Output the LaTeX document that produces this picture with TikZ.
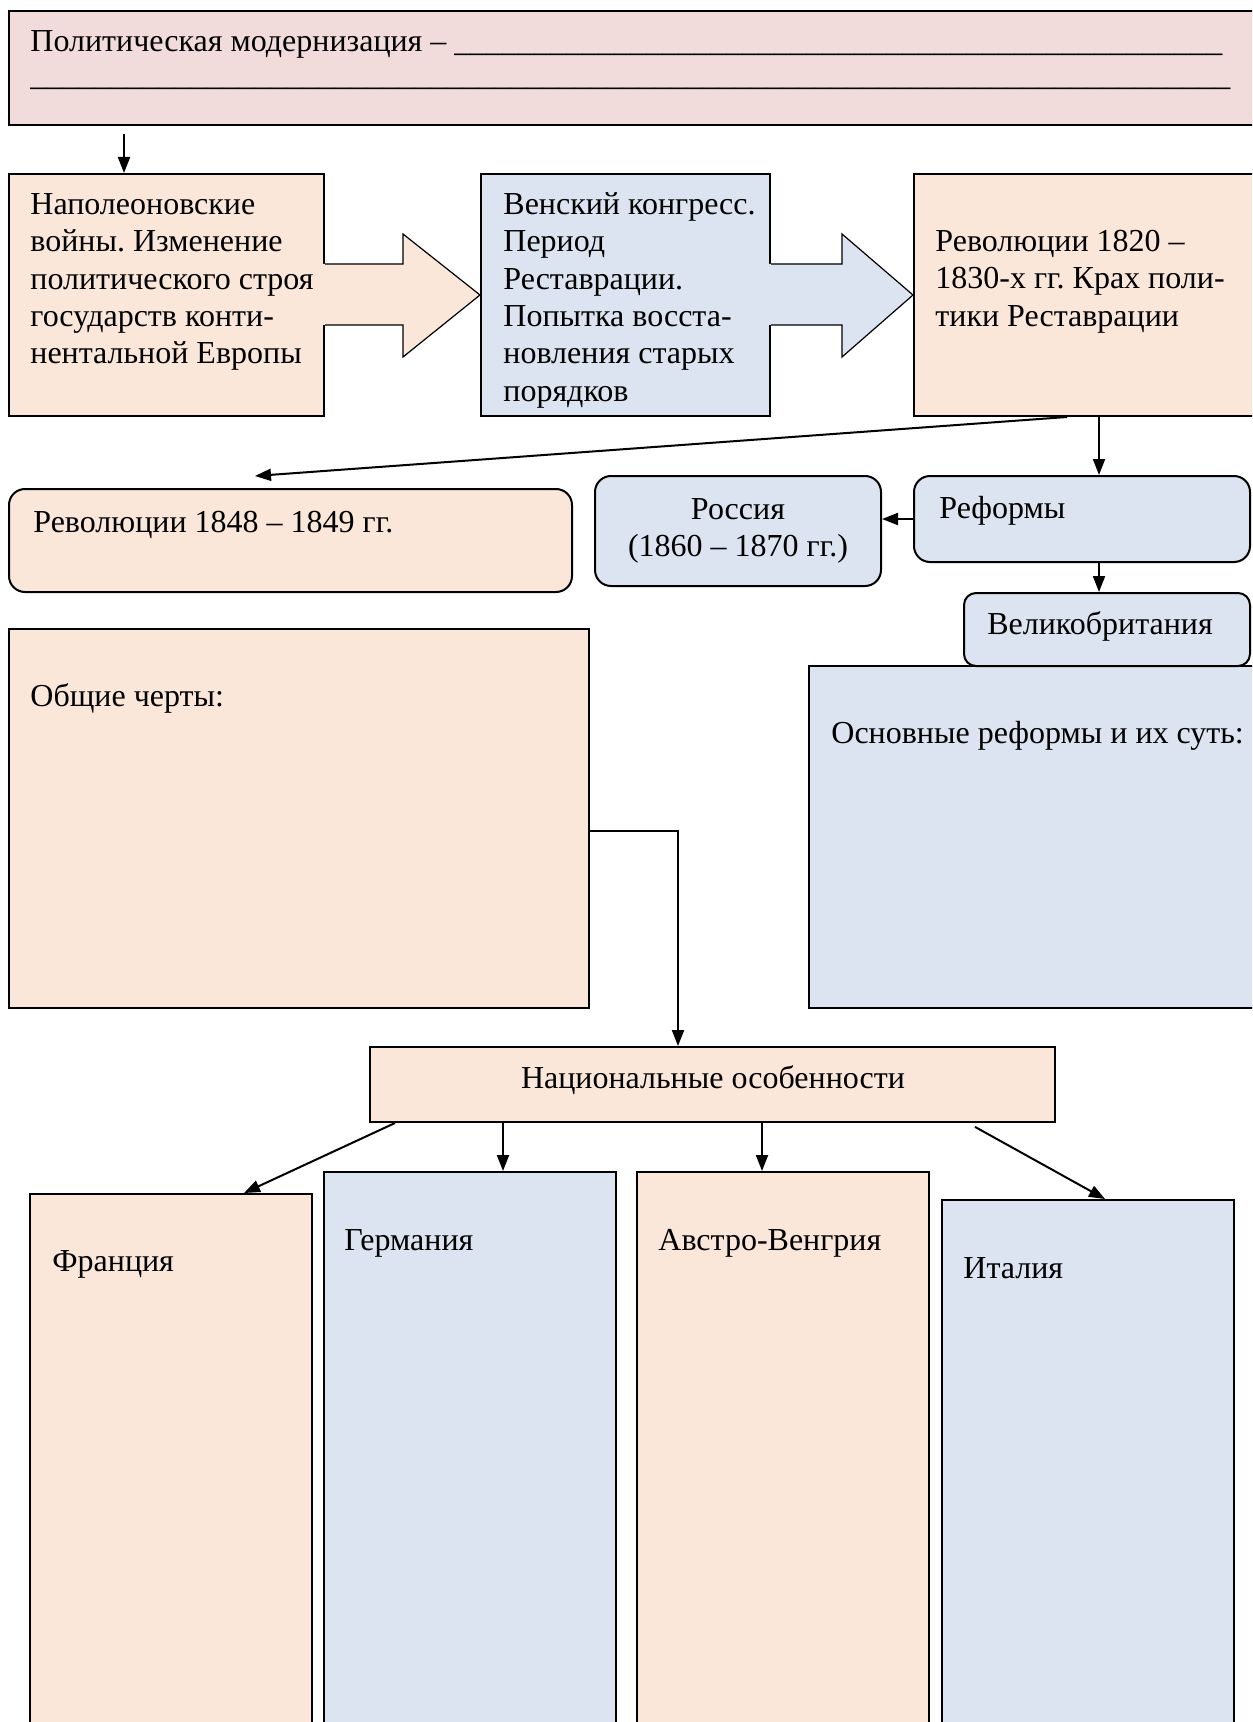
\documentclass[tikz,border=0pt]{standalone}
\usepackage{fontspec}
\setmainfont{Liberation Serif}
\usetikzlibrary{arrows.meta,calc,fit}
\definecolor{pinkf}{HTML}{F2DCDB}
\definecolor{peachf}{HTML}{FBE7D9}
\definecolor{bluef}{HTML}{DBE4F0}
\frenchspacing
\begin{document}
\begin{tikzpicture}[x=0.5pt,y=-0.5pt,
  every node/.style={font=\fontsize{16}{18.65}\selectfont},
  boxbase/.style={draw=black, line width=1pt, inner sep=0pt},
  peachbox/.style={boxbase, fill=peachf},
  bluebox/.style={boxbase, fill=bluef},
  pinkbox/.style={boxbase, fill=pinkf},
  roundbox/.style={rounded corners=8pt},
  txt/.style={inner sep=0pt, anchor=north west, align=left},
  txtc/.style={inner sep=0pt, anchor=north, align=center},
  txtb/.style={inner sep=0pt, anchor=base west},
  txtbc/.style={inner sep=0pt, anchor=base},
  conn/.style={line width=1pt, -{Triangle[length=8pt,width=6pt]}},
  blockarrow/.style={draw=black, line width=0.6pt},
]
\fill[white] (0,0) rectangle (1252,1722);
\clip (0,0) rectangle (1252,1722);

% boxes
\node[pinkbox, fit={(9,11)(1262,125)}] (top) {};
\node[peachbox, fit={(9,174)(324,416)}] (b1) {};
\node[bluebox, fit={(481,174)(770,416)}] (b2) {};
\node[peachbox, fit={(914,174)(1262,416)}] (b3) {};
\node[peachbox, roundbox, fit={(9,489)(572,592)}] (r48) {};
\node[bluebox, roundbox, fit={(595,476)(881,586)}] (rus) {};
\node[bluebox, roundbox, fit={(914,476)(1250,562)}] (ref) {};
\node[bluebox, fit={(809,666)(1262,1008)}] (osn) {};
\node[bluebox, rounded corners=6pt, fit={(964,593)(1250,666)}] (gb) {};
\node[peachbox, fit={(9,629)(589,1008)}] (obs) {};
\node[peachbox, fit={(370,1047)(1055,1122)}] (nat) {};
\node[peachbox, fit={(30,1194)(312,1740)}] (fr) {};
\node[bluebox, fit={(324,1172)(616,1740)}] (ger) {};
\node[peachbox, fit={(637,1172)(929,1740)}] (aus) {};
\node[bluebox, fit={(942,1200)(1234,1740)}] (ita) {};

% block arrows
\fill[peachf] ($(b1.east)+(-3,-31)$) -- ($(b1.east)+(78,-31)$) -- ($(b1.east)+(78,-61)$) -- (b2.west)
  -- ($(b1.east)+(78,62)$) -- ($(b1.east)+(78,30)$) -- ($(b1.east)+(-3,30)$) -- cycle;
\draw[blockarrow] ($(b1.east)+(0,-31)$) -- ($(b1.east)+(78,-31)$) -- ($(b1.east)+(78,-61)$) -- (b2.west)
  -- ($(b1.east)+(78,62)$) -- ($(b1.east)+(78,30)$) -- ($(b1.east)+(0,30)$);
\fill[bluef] ($(b2.east)+(-3,-31)$) -- ($(b2.east)+(71,-31)$) -- ($(b2.east)+(71,-61)$) -- (b3.west)
  -- ($(b2.east)+(71,62)$) -- ($(b2.east)+(71,30)$) -- ($(b2.east)+(-3,30)$) -- cycle;
\draw[blockarrow] ($(b2.east)+(0,-31)$) -- ($(b2.east)+(71,-31)$) -- ($(b2.east)+(71,-61)$) -- (b3.west)
  -- ($(b2.east)+(71,62)$) -- ($(b2.east)+(71,30)$) -- ($(b2.east)+(0,30)$);

% texts
\node[txt] (ttop) at (30,25) {\strut Политическая модернизация – \makebox[384pt][l]{\leaders\hbox{\_}\hfill}\\[-1.5pt]\makebox[600pt][l]{\leaders\hbox{\_}\hfill}};
\node[txt] (t1) at (30,188) {\strut Наполеоновские\\войны. Изменение\\политического строя\\государств конти-\\нентальной Европы};
\node[txt] (t2) at (503,188) {\strut Венский конгресс.\\Период\\Реставрации.\\Попытка восста-\\новления старых\\порядков};
\node[txt] (t3) at (935,225) {\strut Революции 1820 –\\1830-х гг. Крах поли-\\тики Реставрации};
\node[txtb] (t48) at (33,532) {Революции 1848 – 1849 гг.};
\node[txtc] (trus) at (738,493) {\strut Россия\\(1860 – 1870 гг.)};
\node[txtb] (tref) at (939,518) {Реформы};
\node[txtbc] (tgb) at (1100,634) {Великобритания};
\node[txtb] (tosn) at (831,743) {Основные реформы и их суть:};
\node[txtb] (tobs) at (30,706) {Общие черты:};
\node[txtbc] (tnat) at (713,1088) {Национальные особенности};
\node[txtb] (tfr) at (52,1271) {Франция};
\node[txtb] (tger) at (344,1250) {Германия};
\node[txtb] (taus) at (658,1250) {Австро-Венгрия};
\node[txtb] (tita) at (963,1278) {Италия};

% helper coordinates
\coordinate (x124) at (124,0);
\coordinate (x1067) at (1067,0);
\coordinate (x1099) at (1099,0);
\coordinate (e48) at (255,476);
\coordinate (y519) at (0,519);
\coordinate (y831) at (0,831);
\coordinate (x678) at (678,0);
\coordinate (x395) at (395,0);
\coordinate (x244) at (244,0);
\coordinate (x503) at (503,0);
\coordinate (x762) at (762,0);
\coordinate (x968) at (968,0);
\coordinate (x1105) at (1105,0);

% connectors
\draw[conn, shorten <=4pt] (x124 |- top.south) -- (x124 |- b1.north);
\draw[conn] (x1067 |- b3.south) -- (e48);
\draw[conn] (x1099 |- b3.south) -- (x1099 |- ref.north);
\draw[conn] (ref.west |- y519) -- (rus.east |- y519);
\draw[conn] (x1099 |- ref.south) -- (x1099 |- gb.north);
\draw[conn] (obs.east |- y831) -| (x678 |- nat.north);
\draw[conn] (x395 |- nat.south) -- (x244 |- fr.north);
\draw[conn] (x503 |- nat.south) -- (x503 |- ger.north);
\draw[conn] (x762 |- nat.south) -- (x762 |- aus.north);
\draw[conn, shorten <=4pt] (x968 |- nat.south) -- (x1105 |- ita.north);
\end{tikzpicture}
\end{document}
